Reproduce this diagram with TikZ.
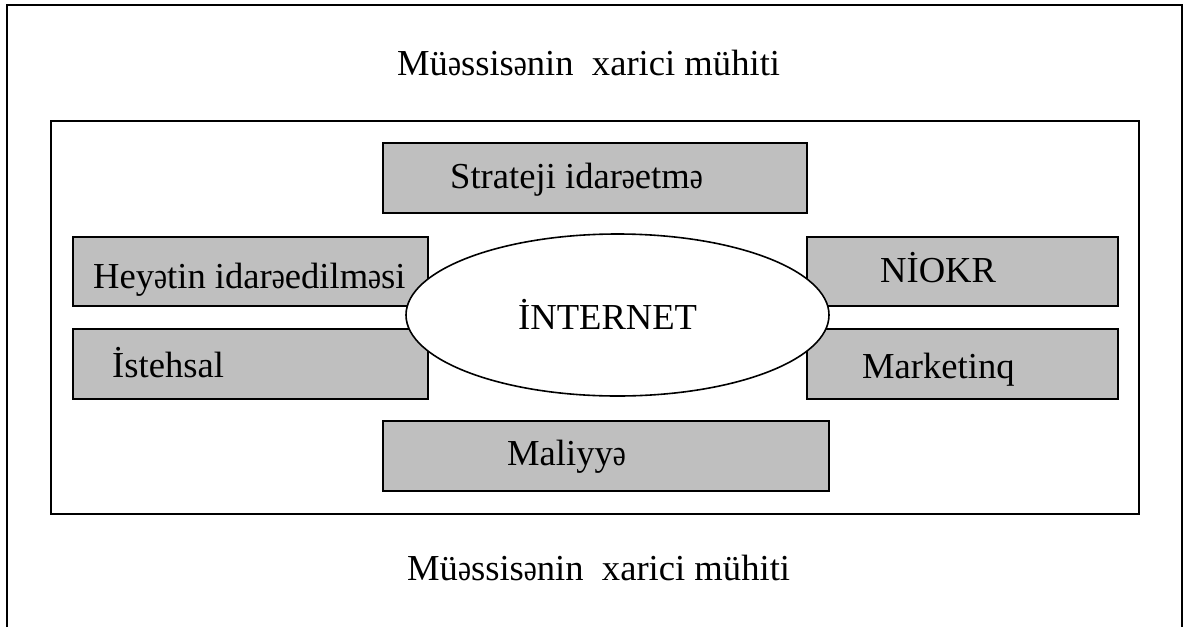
\documentclass[tikz,border=0pt]{standalone}
\usepackage{fontspec}
\usepackage{graphicx}
\setmainfont{Liberation Serif}
\usetikzlibrary{shapes.geometric}
% narrower schwa, closer to the width of the other lowercase letters
\newcommand{\sw}{\scalebox{0.8}[1]{ə}}
\begin{document}
\begin{tikzpicture}[x=1pt,y=-1pt,
  frame/.style={draw=black,line width=1.8pt},
  area/.style={draw=black,line width=2pt,rectangle,anchor=north west,inner sep=0pt,outer sep=0pt},
  unit/.style={draw=black,fill=black!25,line width=2pt,rectangle,anchor=north west,inner sep=0pt,outer sep=0pt},
  hub/.style={draw=black,fill=white,line width=1.6pt,ellipse,inner sep=0pt,minimum width=423pt,minimum height=162pt},
  lbl/.style={anchor=base west,inner sep=0pt,font=\fontsize{36.6pt}{44pt}\selectfont}]
  \useasboundingbox (0,0) rectangle (1183,627);
  % outer environment frame, open at the bottom
  \draw[frame] (7,627) -- (7,5) -- (1182,5) -- (1182,627);
  \node[lbl] (envtop) at (397,75) {Mü\sw ssis\sw nin\ \ xarici mühiti};
  \node[lbl] (envbot) at (407,580) {Mü\sw ssis\sw nin\ \ xarici mühiti};
  % the enterprise
  \node[area,minimum width=1088pt,minimum height=393pt] (firm) at (51,121) {};
  % functional units
  \node[unit,minimum width=424pt,minimum height=70pt] (strat) at (383,143) {};
  \node[unit,minimum width=355pt,minimum height=69pt] (hr) at (73,237) {};
  \node[unit,minimum width=355pt,minimum height=70pt] (prod) at (73,329) {};
  \node[unit,minimum width=311pt,minimum height=69pt] (rnd) at (807,237) {};
  \node[unit,minimum width=311pt,minimum height=70pt] (mkt) at (807,329) {};
  \node[unit,minimum width=446pt,minimum height=70pt] (fin) at (383,421) {};
  \node[lbl] (stratT) at (450,188) {Strateji idar\sw etm\sw};
  \node[lbl] (hrT) at (93,288) {Hey\sw tin idar\sw edilm\sw si};
  \node[lbl] (prodT) at (112,377) {İstehsal};
  \node[lbl] (rndT) at (880,282) {NİOKR};
  \node[lbl] (mktT) at (862,378) {Marketinq};
  \node[lbl] (finT) at (507,465) {Maliyy\sw};
  % internet at the centre
  \node[hub] (net) at (617.5,315) {};
  \node[lbl] (netT) at (518,329) {İNTERNET};
\end{tikzpicture}
\end{document}
